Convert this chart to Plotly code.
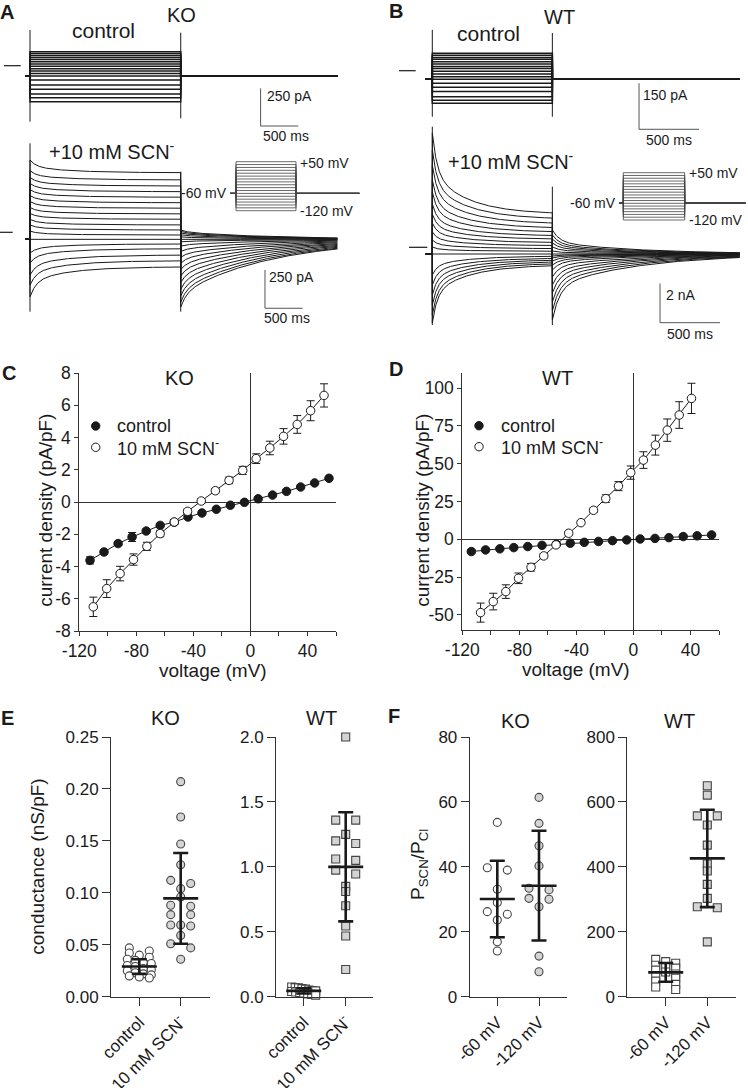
import numpy as np
import plotly.graph_objects as go

W, H = 748, 1088
FONT = "Liberation Sans, Arial, Helvetica, sans-serif"
INK = "#1a1a1a"
AX = "#333333"

# ======================= DATA =======================
# ---- Panel A (KO), 2-s voltage steps; sweeps listed from top trace to bottom trace (pA)
A_STEP_MS, A_PRE_MS, A_END_MS = 2000, -66, 4080
A_ctrl_hold = -68
A_ctrl_step = [93, 81, 68, 54, 41, 27, 11, -4, -20, -35, -52, -68, -95, -128, -156, -188, -212, -239]
A_ctrl_cap_on = [-371, 237]
A_ctrl_cap_off = [-349, 219]

A_scn_hold = -46
A_scn_start = [472, 402, 358, 319, 279, 240, 201, 162, 123, 84, 48, 8, -46, -135, -200, -279, -344, -421]
A_scn_end = [389, 342, 302, 265, 229, 193, 157, 120, 85, 48, 15, -18, -46, -76, -107, -148, -185, -225]
A_scn_tail = [-488, -455, -415, -372, -328, -285, -243, -202, -163, -125, -90, -62, -46, -30, -16, -4, 6, 15]
A_scn_cap_on = [-518, 581]
A_scn_cap_off = [-518, 396]

# ---- Panel B (WT), 1-s voltage steps
B_STEP_MS, B_PRE_MS, B_END_MS = 1000, -55, 2561
B_ctrl_hold = -28
B_ctrl_step = [57, 50, 43, 37, 29, 22, 14, 7, -2, -11, -20, -28, -41, -54, -68, -85, -96, -106]
B_ctrl_cap_on = [-150, 133]
B_ctrl_cap_off = [-150, 123]

B_scn_hold = -341
B_scn_start = [5818, 4953, 4189, 3426, 2815, 2204, 1695, 1237, 779, 372, 15, -341, -1410, -1919, -2428, -2937, -3446, -3853]
B_scn_end = [1680, 1425, 1186, 967, 764, 575, 407, 234, 81, -71, -204, -341, -443, -545, -631, -713, -799, -886]
B_scn_tail = [-3700, -3242, -2784, -2326, -1919, -1512, -1155, -901, -697, -545, -443, -341, -188, 15, 219, 422, 626, 881]
B_scn_cap_on = [-3955, 6139]
B_scn_cap_off = [-3955, 3085]

# voltage protocol (mV)
PROTOCOL_mV = [50, 40, 30, 20, 10, 0, -10, -20, -30, -40, -50, -60, -70, -80, -90, -100, -110, -120]
HOLD_mV = -60

# scale bars
A_SCALE_pA, B_CTRL_SCALE_pA, B_SCN_SCALE_pA, SCALE_ms = 250, 150, 2000, 500

# ---- Panel C (KO I-V), pA/pF
C_ctrl_v = [-112.5, -102.7, -92.8, -83, -73.1, -63.3, -53.4, -43.8, -34, -23.9, -14.1, -4.2, 5.4, 15.5, 25.3, 35.2, 45, 55.1]
C_ctrl_i = [-3.62, -3.10, -2.58, -2.17, -1.80, -1.45, -1.25, -0.93, -0.68, -0.45, -0.20, -0.02, 0.20, 0.43, 0.66, 0.93, 1.18, 1.47]
C_ctrl_err = [0.22, 0.15, 0.12, 0.28, 0.08, 0.07, 0.06, 0.05, 0.05, 0.04, 0.04, 0.04, 0.04, 0.05, 0.05, 0.06, 0.07, 0.08]
C_scn_v = [-110.2, -100.8, -91.4, -82, -72.6, -63.3, -53.4, -44.1, -34.5, -24.6, -15, -5.4, 4, 13.6, 23.2, 32.8, 42.2, 51.6]
C_scn_i = [-6.50, -5.37, -4.44, -3.57, -2.75, -1.96, -1.24, -0.58, 0.06, 0.70, 1.34, 1.96, 2.69, 3.35, 4.07, 4.81, 5.66, 6.61]
C_scn_err = [0.60, 0.55, 0.45, 0.35, 0.25, 0.20, 0.15, 0.15, 0.15, 0.15, 0.20, 0.25, 0.30, 0.42, 0.48, 0.55, 0.62, 0.72]

# ---- Panel D (WT I-V), pA/pF
D_ctrl_v = [-113.7, -103.7, -93.7, -83.9, -74.1, -64.1, -54.1, -44.3, -34.5, -24.5, -14.7, -4.7, 4.7, 15.1, 24.9, 34.9, 44.7, 54.8]
D_ctrl_i = [-8.1, -7.0, -6.3, -5.5, -4.8, -4.0, -3.3, -2.6, -2.0, -1.4, -0.9, -0.4, 0.2, 0.6, 1.1, 1.8, 2.3, 2.9]
D_ctrl_err = [1.2, 1.0, 0.9, 0.8, 0.7, 0.6, 0.6, 0.5, 0.5, 0.5, 0.4, 0.4, 0.4, 0.4, 0.5, 0.5, 0.6, 0.7]
D_scn_v = [-107.2, -98.3, -89.5, -80.6, -71.8, -62.9, -54.3, -45.4, -36.8, -28.0, -19.4, -10.5, -1.9, 7.0, 15.4, 23.7, 32.1, 40.7]
D_scn_i = [-48.5, -41.2, -34.6, -25.8, -18.5, -11.0, -3.7, 4.0, 11.0, 19.2, 26.9, 35.2, 44.1, 52.4, 62.3, 72.2, 82.2, 93.2]
D_scn_err = [6.3, 5.5, 4.5, 3.5, 2.5, 1.5, 1.0, 1.0, 1.2, 1.5, 2.5, 3.0, 4.4, 5.5, 6.6, 7.4, 8.8, 10.0]

IV_XTICKS = [-120, -80, -40, 0, 40]

# ---- Panel E: conductance (nS/pF)
E_cats = ["control", "10 mM SCN<sup>-</sup>"]
E_ko_ctrl = [0.047, 0.044, 0.042, 0.040, 0.038, 0.036, 0.035, 0.033, 0.032, 0.030,
             0.029, 0.027, 0.026, 0.025, 0.023, 0.022, 0.021, 0.020, 0.019, 0.018]
E_ko_scn = [0.207, 0.173, 0.147, 0.127, 0.112, 0.109, 0.104, 0.096, 0.088, 0.087,
            0.079, 0.079, 0.069, 0.069, 0.068, 0.059, 0.051, 0.047, 0.036]
E_ko_mean, E_ko_sd = [0.029, 0.0947], [0.007, 0.0437]
E_wt_ctrl = [0.075, 0.070, 0.068, 0.062, 0.058, 0.052, 0.048, 0.045, 0.040, 0.036,
             0.032, 0.028, 0.022, 0.018, 0.012]
E_wt_scn = [2.0, 1.36, 1.36, 1.25, 1.20, 1.18, 1.06, 1.05, 0.975, 0.945, 0.85, 0.81,
            0.70, 0.545, 0.467, 0.21]
E_wt_mean, E_wt_sd = [0.045, 1.0], [0.02, 0.42]

# ---- Panel F: P_SCN/P_Cl
F_cats = ["-60 mV", "-120 mV"]
F_ko_60 = [53.7, 39.7, 39.0, 33.1, 29.0, 26.2, 25.4, 23.6, 16.9, 14.1]
F_ko_120 = [61.4, 53.4, 46.5, 40.3, 33.4, 32.9, 30.3, 30.0, 27.7, 12.5, 7.7]
F_ko_mean, F_ko_sd = [30.1, 34.2], [11.8, 16.9]
F_wt_60 = [115, 108, 103, 97, 93, 88, 82, 76, 70, 64, 57, 48, 38, 30, 22]
F_wt_120 = [650, 621, 557, 557, 529, 467, 409, 387, 346, 303, 277, 274, 169]
F_wt_mean, F_wt_sd = [75, 426], [29, 150]

# ======================= HELPERS =======================
layout_axes = {}
traces = []
shapes = []
annotations = []


def ax_names(n):
    return ("xaxis" if n == 1 else f"xaxis{n}", "yaxis" if n == 1 else f"yaxis{n}",
            "x" if n == 1 else f"x{n}", "y" if n == 1 else f"y{n}")


def xdom(a, b):
    return [a / W, b / W]


def ydom(top, bottom):
    return [1 - bottom / H, 1 - top / H]


def hidden_axes(n, xpx, ypx, xr, yr):
    xa, ya, _, _ = ax_names(n)
    layout_axes[xa] = dict(domain=xdom(*xpx), range=xr, anchor=ax_names(n)[3], visible=False, fixedrange=True)
    layout_axes[ya] = dict(domain=ydom(*ypx), range=yr, anchor=ax_names(n)[2], visible=False, fixedrange=True)


def trace_panel(n, xpx, ypx, t0_px, ms_per_px, zero_px, pa_per_px):
    xr = [(xpx[0] - t0_px) * ms_per_px, (xpx[1] - t0_px) * ms_per_px]
    yr = [(zero_px - ypx[1]) * pa_per_px, (zero_px - ypx[0]) * pa_per_px]
    hidden_axes(n, xpx, ypx, xr, yr)


def sweeps(pre, T, t_end, hold, start, end, tail, wf, tf, tsl, wt, tft, tst):
    ts = np.concatenate([np.linspace(0, 150, 61), np.linspace(150, T, 160)[1:]])
    tt = np.concatenate([np.linspace(0, 250, 61), np.linspace(250, t_end - T, 160)[1:]])
    X, Y = [], []
    for s, e, tl in zip(start, end, tail):
        step = e + (s - e) * (wf * np.exp(-ts / tf) + (1 - wf) * np.exp(-ts / tsl))
        tv = hold + (tl - hold) * (wt * np.exp(-tt / tft) + (1 - wt) * np.exp(-tt / tst))
        X += [pre, 0.0] + list(ts) + list(T + tt) + [None]
        Y += [hold, hold] + list(step) + list(tv) + [None]
    return X, Y


def add_sweeps(n, X, Y, width, color=INK):
    _, _, xr, yr = ax_names(n)
    traces.append(go.Scatter(x=X, y=Y, mode="lines", xaxis=xr, yaxis=yr,
                             line=dict(color=color, width=width), hoverinfo="skip"))


def add_caps(n, T, on, off):
    _, _, xr, yr = ax_names(n)
    traces.append(go.Scatter(x=[0, 0, None, T, T], y=[on[0], on[1], None, off[0], off[1]],
                             mode="lines", xaxis=xr, yaxis=yr,
                             line=dict(color=INK, width=1), hoverinfo="skip"))


def scale_bar(n, t0, i0, dpa, dms):
    _, _, xr, yr = ax_names(n)
    for x0, y0, x1, y1 in [(t0, i0, t0, i0 + dpa), (t0, i0, t0 + dms, i0)]:
        shapes.append(dict(type="line", xref=xr, yref=yr, x0=x0, y0=y0, x1=x1, y1=y1,
                           line=dict(color="#555", width=1)))


def zero_mark(n, px0, px1):
    _, _, _, yr = ax_names(n)
    shapes.append(dict(type="line", xref="paper", yref=yr, x0=px0 / W, x1=px1 / W, y0=0, y1=0,
                       line=dict(color=INK, width=1.2)))


def text(s, x, y, size, xanchor="center", yanchor="middle", angle=0, bold=False, color=INK):
    if bold:
        s = f"<b>{s}</b>"
    annotations.append(dict(text=s, x=x / W, y=1 - y / H, xref="paper", yref="paper",
                            xanchor=xanchor, yanchor=yanchor, showarrow=False, textangle=angle,
                            font=dict(family=FONT, size=size, color=color)))


def protocol(n, T, pre, post):
    _, _, xr, yr = ax_names(n)
    X, Y = [], []
    for v in PROTOCOL_mV:
        X += [pre, 0, 0, T, T, post, None]
        Y += [HOLD_mV, HOLD_mV, v, v, HOLD_mV, HOLD_mV, None]
    traces.append(go.Scatter(x=X, y=Y, mode="lines", xaxis=xr, yaxis=yr,
                             line=dict(color="#444", width=0.8), hoverinfo="skip"))


# ======================= PANEL A =======================
trace_panel(1, (0, 372), (22, 132), 30, 13.27, 65.7, 6.63)
X, Y = sweeps(A_PRE_MS, A_STEP_MS, A_END_MS, A_ctrl_hold, A_ctrl_step, A_ctrl_step,
              [A_ctrl_hold] * len(A_ctrl_step), 0.5, 50, 500, 0.5, 50, 500)
add_sweeps(1, X, Y, 1.5)
add_caps(1, A_STEP_MS, A_ctrl_cap_on, A_ctrl_cap_off)
scale_bar(1, 3060, -400, A_SCALE_pA, SCALE_ms)
zero_mark(1, 4, 20.7)

trace_panel(2, (0, 372), (138, 330), 30, 13.27, 232.3, 6.53)
X, Y = sweeps(A_PRE_MS, A_STEP_MS, A_END_MS, A_scn_hold, A_scn_start, A_scn_end, A_scn_tail,
              0.5, 80, 500, 0.2, 80, 1200)
add_sweeps(2, X, Y, 1.0)
add_caps(2, A_STEP_MS, A_scn_cap_on, A_scn_cap_off)
scale_bar(2, 3118, -496, A_SCALE_pA, SCALE_ms)
zero_mark(2, 0, 12.7)

# inset A
hidden_axes(3, (226, 364), (158, 214), [(226 - 236) * 33.33, (364 - 236) * 33.33], [-131.4, 62.8])
protocol(3, A_STEP_MS, -200, 4110)

# ======================= PANEL B =======================
trace_panel(4, (374, 748), (22, 134), 432.3, 8.33, 70.7, 3.26)
X, Y = sweeps(B_PRE_MS, B_STEP_MS, B_END_MS, B_ctrl_hold, B_ctrl_step, B_ctrl_step,
              [B_ctrl_hold] * len(B_ctrl_step), 0.5, 50, 500, 0.5, 50, 500)
add_sweeps(4, X, Y, 1.5)
add_caps(4, B_STEP_MS, B_ctrl_cap_on, B_ctrl_cap_off)
scale_bar(4, 1722, -191, B_CTRL_SCALE_pA, SCALE_ms)
zero_mark(4, 399, 415.7)

trace_panel(5, (374, 748), (122, 340), 432.3, 8.33, 247.3, 50.9)
X, Y = sweeps(B_PRE_MS, B_STEP_MS, B_END_MS, B_scn_hold, B_scn_start, B_scn_end, B_scn_tail,
              0.5, 40, 300, 0.5, 60, 700)
add_sweeps(5, X, Y, 1.0)
add_caps(5, B_STEP_MS, B_scn_cap_on, B_scn_cap_off)
scale_bar(5, 1897, -3838, B_SCN_SCALE_pA, SCALE_ms)
zero_mark(5, 409, 427.3)

# inset B
hidden_axes(6, (612, 748), (168, 224), [(612 - 623.3) * 16.29, (748 - 623.3) * 16.29], [-134.4, 66.9])
protocol(6, B_STEP_MS, -70, 1994)

# text A/B
text("A", 7, 12, 20, bold=True)
text("B", 395.7, 11, 20, bold=True)
text("KO", 181.7, 15, 20)
text("control", 103, 30, 21)
text("+10 mM SCN<sup>-</sup>", 46.7, 150, 20, xanchor="left")
text("WT", 559.8, 16.7, 20)
text("control", 488, 33.3, 21)
text("+10 mM SCN<sup>-</sup>", 445.7, 160, 20, xanchor="left")
text("250 pA", 265, 96, 14, xanchor="left")
text("500 ms", 285.8, 136, 14)
text("250 pA", 266.7, 276.7, 14, xanchor="left")
text("500 ms", 287, 318.3, 14)
text("150 pA", 640.7, 95, 14, xanchor="left")
text("500 ms", 669, 140, 14)
text("2 nA", 664, 295, 14, xanchor="left")
text("500 ms", 690, 334, 14)
text("+50 mV", 298, 163.3, 14, xanchor="left")
text("-120 mV", 298, 210.7, 14, xanchor="left")
text("-60 mV", 229, 193.3, 14, xanchor="right")
text("+50 mV", 686.7, 172.7, 14, xanchor="left")
text("-120 mV", 686.7, 220, 14, xanchor="left")
text("-60 mV", 618, 203.3, 14, xanchor="right")

# ======================= PANELS C / D =======================
TICKF = dict(family=FONT, size=17.5, color=INK)


def iv_axes(n, xpx, ypx, yr, yticks):
    xa, ya, xr_, yr_ = ax_names(n)
    layout_axes[xa] = dict(domain=xdom(*xpx), range=[-120, 60], anchor=yr_, showline=True,
                           linecolor=AX, linewidth=1, ticks="outside", ticklen=4, tickcolor=AX,
                           tickvals=IV_XTICKS, ticktext=[str(v) for v in IV_XTICKS],
                           minor=dict(ticks="outside", ticklen=4, tickcolor=AX, tick0=-120, dtick=20,
                                      showgrid=False),
                           tickfont=TICKF, showgrid=False, zeroline=True, zerolinecolor=AX,
                           zerolinewidth=1, fixedrange=True)
    layout_axes[ya] = dict(domain=ydom(*ypx), range=yr, anchor=xr_, showline=True,
                           linecolor=AX, linewidth=1, ticks="outside", ticklen=4, tickcolor=AX,
                           tickvals=yticks, ticktext=[str(v) for v in yticks], tickfont=TICKF,
                           showgrid=False, zeroline=True, zerolinecolor=AX, zerolinewidth=1,
                           fixedrange=True)


def iv_series(n, v, i, err, filled):
    _, _, xr, yr = ax_names(n)
    traces.append(go.Scatter(
        x=v, y=i, mode="lines+markers", xaxis=xr, yaxis=yr, cliponaxis=False,
        line=dict(color=INK, width=1),
        marker=dict(size=8.5, color=INK if filled else "white", line=dict(color=INK, width=1)),
        error_y=dict(type="data", array=err, visible=True, width=4, thickness=1, color=INK),
        hoverinfo="skip"))


iv_axes(7, (79.33, 336), (373, 631), [-8, 8], list(range(-8, 9, 2)))
iv_series(7, C_ctrl_v, C_ctrl_i, C_ctrl_err, True)
iv_series(7, C_scn_v, C_scn_i, C_scn_err, False)

iv_axes(8, (462.33, 719), (373, 630), [-60, 110], [-50, -25, 0, 25, 50, 75, 100])
iv_series(8, D_ctrl_v, D_ctrl_i, D_ctrl_err, True)
iv_series(8, D_scn_v, D_scn_i, D_scn_err, False)


def legend_dot(x, y, filled):
    shapes.append(dict(type="circle", xref="paper", yref="paper", xsizemode="pixel", ysizemode="pixel",
                       xanchor=x / W, yanchor=1 - y / H, x0=-4.2, x1=4.2, y0=-4.2, y1=4.2,
                       fillcolor=INK if filled else "white", line=dict(color=INK, width=1)))


text("C", 9, 373, 20, bold=True)
text("D", 395.7, 369, 20, bold=True)
text("KO", 179, 377.7, 20)
text("WT", 557, 377.7, 20)
legend_dot(95.7, 426, True)
legend_dot(95.7, 447.3, False)
text("control", 115, 426, 18, xanchor="left")
text("10 mM SCN<sup>-</sup>", 115, 447.3, 18, xanchor="left")
legend_dot(479, 425.7, True)
legend_dot(479, 446.7, False)
text("control", 499, 425.7, 18, xanchor="left")
text("10 mM SCN<sup>-</sup>", 499, 446.7, 18, xanchor="left")
text("current density (pA/pF)", 46, 510.8, 19, angle=-90)
text("current density (pA/pF)", 423, 510.8, 19, angle=-90)
text("voltage (mV)", 212.5, 670.5, 19)
text("voltage (mV)", 575.7, 669, 19)

# ======================= PANELS E / F =======================
TICKS2 = dict(family=FONT, size=17, color=INK)
SC_TOP, SC_BOT = 737, 996.7


def scatter_axes(n, xpx, cat_px, ymax, yticks, yfmt, cats):
    xa, ya, xr_, yr_ = ax_names(n)
    unit = cat_px[1] - cat_px[0]
    xr = [(xpx[0] - cat_px[0]) / unit, (xpx[1] - cat_px[0]) / unit]
    layout_axes[xa] = dict(domain=xdom(*xpx), range=xr, anchor=yr_, showline=True, linecolor=AX,
                           linewidth=1, ticks="outside", ticklen=8, tickcolor=AX, tickvals=[0, 1],
                           ticktext=cats, tickangle=-45, tickfont=TICKS2, showgrid=False,
                           zeroline=False, fixedrange=True)
    layout_axes[ya] = dict(domain=ydom(SC_TOP, SC_BOT), range=[0, ymax], anchor=xr_, showline=True,
                           linecolor=AX, linewidth=1, ticks="outside", ticklen=8, tickcolor=AX,
                           tickvals=yticks, ticktext=[yfmt.format(v) for v in yticks],
                           tickfont=TICKS2, showgrid=False, zeroline=False, fixedrange=True)
    return unit, (SC_BOT - SC_TOP) / ymax


def swarm(vals, px_per_val, px_per_cat, bin_px=4.5):
    vals = np.asarray(vals, float)
    order = np.argsort(-vals, kind="stable")
    rows = []
    for i in order:
        y = vals[i] * px_per_val
        if rows and abs(rows[-1][0] - y) < bin_px:
            rows[-1][1].append(i)
        else:
            rows.append([y, [i]])
    off = np.zeros(len(vals))
    for _, idx in rows:
        m = len(idx)
        if m > 1:
            half = 10 if m <= 3 else 12
            for k, i in enumerate(idx):
                off[i] = (-half + 2 * half * k / (m - 1)) / px_per_cat
    return off


def group(n, pos, vals, unit, ppv, symbol, filled):
    _, _, xr, yr = ax_names(n)
    off = swarm(vals, ppv, unit)
    traces.append(go.Scatter(
        x=pos + off, y=vals, mode="markers", xaxis=xr, yaxis=yr, cliponaxis=False,
        marker=dict(symbol=symbol, size=8, color="#d4d4d4" if filled else "white",
                    line=dict(color="#444", width=1.1)),
        hoverinfo="skip"))


def mean_sd(n, means, sds):
    _, _, xr, yr = ax_names(n)
    traces.append(go.Scatter(
        x=[0, 1], y=means, mode="markers", xaxis=xr, yaxis=yr, cliponaxis=False,
        marker=dict(symbol="line-ew", size=25, color=INK, line=dict(color=INK, width=2.6)),
        error_y=dict(type="data", array=sds, visible=True, width=7.5, thickness=2.6, color=INK),
        hoverinfo="skip"))


u, p = scatter_axes(9, (111, 210), (139.3, 180.7), 0.25, [0, 0.05, 0.10, 0.15, 0.20, 0.25], "{:.2f}", E_cats)
group(9, 0, E_ko_ctrl, u, p, "circle", False)
group(9, 1, E_ko_scn, u, p, "circle", True)
mean_sd(9, E_ko_mean, E_ko_sd)

u, p = scatter_axes(10, (276, 373.3), (303.7, 345.7), 2.0, [0, 0.5, 1.0, 1.5, 2.0], "{:.1f}", E_cats)
group(10, 0, E_wt_ctrl, u, p, "square", False)
group(10, 1, E_wt_scn, u, p, "square", True)
mean_sd(10, E_wt_mean, E_wt_sd)

u, p = scatter_axes(11, (469.7, 567.3), (497.3, 539), 80, [0, 20, 40, 60, 80], "{:d}", F_cats)
group(11, 0, F_ko_60, u, p, "circle", False)
group(11, 1, F_ko_120, u, p, "circle", True)
mean_sd(11, F_ko_mean, F_ko_sd)

u, p = scatter_axes(12, (627.3, 735.7), (665.7, 707.3), 800, [0, 200, 400, 600, 800], "{:d}", F_cats)
group(12, 0, F_wt_60, u, p, "square", False)
group(12, 1, F_wt_120, u, p, "square", True)
mean_sd(12, F_wt_mean, F_wt_sd)

text("E", 7.5, 717.7, 20, bold=True)
text("F", 394, 716, 20, bold=True)
text("KO", 165, 718.3, 20)
text("WT", 321.7, 718.3, 20)
text("KO", 515, 721, 20)
text("WT", 679, 721, 20)
text("conductance (nS/pF)", 38, 866.7, 19, angle=-90)
text("P<sub>SCN</sub>/P<sub>Cl</sub>", 419, 865, 19, angle=-90)

# ======================= FIGURE =======================
fig = go.Figure(data=traces)
fig.update_layout(
    width=W, height=H, autosize=False, margin=dict(l=0, r=0, t=0, b=0),
    paper_bgcolor="white", plot_bgcolor="rgba(0,0,0,0)", template="none",
    showlegend=False, hovermode=False, font=dict(family=FONT, color=INK),
    shapes=shapes, annotations=annotations, **layout_axes)
fig.write_html("out.html",
               config={"displayModeBar": False, "staticPlot": True},
               post_script="document.body.style.margin='0px';document.body.style.padding='0px';"
                           "document.body.style.overflow='hidden';")
